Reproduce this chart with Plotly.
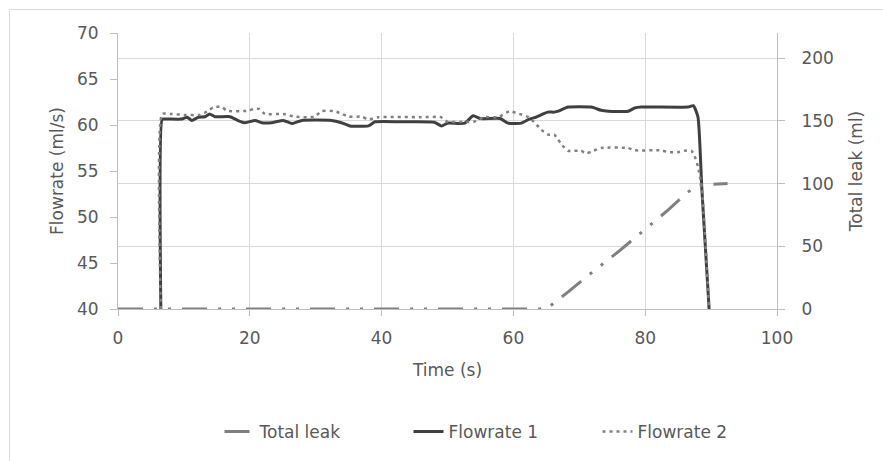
import plotly.graph_objects as go

# ---- data ----
time_leak = [0, 65, 68.5, 71.4, 76, 79, 83.5, 86.2, 88, 92.5]
total_leak = [0, 0, 14.5, 27, 46, 59, 79, 92, 99, 100]

time_f1 = [6.5, 6.7, 7.1, 9.7, 10.5, 11.2, 12.2, 13.2, 13.9, 14.7, 17, 18.3, 19.2, 20.8,
           21.8, 23.3, 25.1, 26.4, 27.9, 32.4, 33.9, 35.2, 38, 39, 43.6, 48, 49.1, 50,
           52.6, 53.9, 55, 58, 59.2, 61.2, 62.3, 63.2, 64.2, 65.2, 66.2, 66.8, 68.3, 71.8,
           73.3, 74.4, 77.4, 78.4, 79.4, 86.5, 87.3, 88, 88.6, 89.7]
flow_1 = [40, 60.6, 60.65, 60.65, 60.85, 60.5, 60.85, 60.9, 61.2, 60.9, 60.9, 60.45, 60.25, 60.5,
          60.25, 60.25, 60.5, 60.15, 60.5, 60.5, 60.25, 59.9, 59.9, 60.35, 60.35, 60.3, 59.9, 60.2,
          60.2, 61.0, 60.7, 60.7, 60.2, 60.2, 60.6, 60.8, 61.1, 61.4, 61.4, 61.5, 61.95, 61.95,
          61.6, 61.5, 61.5, 61.85, 61.95, 61.95, 62.1, 60.9, 53, 40]

time_f2 = [6.5, 6.7, 8, 10, 12.5, 13.8, 14.5, 15.8, 16.5, 19.8, 20.6, 21.4, 22.3, 25.1, 26.8,
           29.8, 30.9, 32.9, 34, 35, 37, 38, 39.5, 46, 49, 50, 52.6, 54, 55.6, 57.7, 59.4, 60.5,
           62.3, 63.3, 64.2, 65.3, 66.2, 66.8, 67.3, 68.3, 70.3, 71, 71.8, 73.3, 77.4, 78.4, 82.4,
           83.5, 85, 86, 87, 87.4, 88, 88.6, 89.7]
flow_2 = [40, 61.2, 61.2, 61.1, 61.1, 61.6, 61.95, 61.95, 61.55, 61.55, 61.75, 61.75, 61.2, 61.2, 60.9,
          60.9, 61.5, 61.5, 61.2, 60.9, 60.9, 60.6, 60.85, 60.85, 60.85, 60.35, 60.35, 60.35, 60.85, 60.85,
          61.5, 61.3, 60.85, 60.2, 59.5, 58.95, 58.95, 58.4, 57.9, 57.2, 57.2, 56.9, 57.1, 57.5, 57.5,
          57.25, 57.25, 57.05, 57.05, 57.2, 57.2, 56.8, 55.5, 53, 40]

x_ticks = [0, 20, 40, 60, 80, 100]
y1_ticks = [40, 45, 50, 55, 60, 65, 70]
y2_ticks = [0, 50, 100, 150, 200]

FONT = "DejaVu Sans"
TXT = "#595959"
AX = "#bfbfbf"
GRID = "#d9d9d9"

fig = go.Figure()
fig.add_trace(go.Scatter(x=time_leak, y=total_leak, name="Total leak", yaxis="y2", mode="lines",
                         line=dict(color="#808080", width=3, dash="25px,11px,3px,11px,3px,11px"),
                         cliponaxis=False))
fig.add_trace(go.Scatter(x=time_f1, y=flow_1, name="Flowrate 1", mode="lines",
                         line=dict(color="#404040", width=3, shape="spline", smoothing=0.5),
                         cliponaxis=False))
fig.add_trace(go.Scatter(x=time_f2, y=flow_2, name="Flowrate 2", mode="lines",
                         line=dict(color="#808080", width=2.5, dash="3px,4px", shape="spline",
                                   smoothing=0.5),
                         cliponaxis=False))

W, H = 883, 461
L, R, T, B = 118, 777, 33, 310
pw, ph = R - L, B - T

fig.update_layout(
    width=W, height=H,
    margin=dict(l=L, r=W - R, t=T, b=H - B),
    paper_bgcolor="white", plot_bgcolor="white",
    font=dict(family=FONT, size=17, color=TXT),
    showlegend=True,
    legend=dict(orientation="h", x=(503 - L) / pw, xanchor="center",
                y=(B - 432) / ph, yanchor="middle",
                font=dict(family=FONT, size=17, color=TXT),
                entrywidth=144, traceorder="normal"),
    xaxis=dict(range=[0, 100], tickvals=x_ticks, showgrid=True, gridcolor=GRID, gridwidth=1,
               showline=True, linecolor=AX, linewidth=1, ticks="outside", ticklen=6, tickcolor=AX,
               zeroline=False, layer="below traces", ticklabelstandoff=8,
               title=dict(text="Time (s)", standoff=16, font=dict(size=17, color=TXT))),
    yaxis=dict(range=[40, 70], tickvals=y1_ticks, showgrid=False,
               showline=True, linecolor=AX, linewidth=1, ticks="outside", ticklen=7, tickcolor=AX,
               zeroline=False, layer="below traces", ticklabelstandoff=8,
               title=dict(text="Flowrate (ml/s)", standoff=9, font=dict(size=17, color=TXT))),
    yaxis2=dict(range=[0, 220], tickvals=y2_ticks, overlaying="y", side="right",
                showgrid=True, gridcolor=GRID, gridwidth=1,
                showline=True, linecolor=AX, linewidth=1, ticks="outside", ticklen=7, tickcolor=AX,
                zeroline=False, layer="below traces", ticklabelstandoff=13,
                title=dict(text="Total leak (ml)", standoff=17, font=dict(size=17, color=TXT))),
    shapes=[dict(type="rect", xref="paper", yref="paper",
                 x0=(9.5 - L) / pw, x1=(W + 10 - L) / pw,
                 y0=(B - (H + 10)) / ph, y1=(B - 9.5) / ph,
                 line=dict(color=GRID, width=1), fillcolor="rgba(0,0,0,0)", layer="below")],
)

fig.write_html("out.html")
